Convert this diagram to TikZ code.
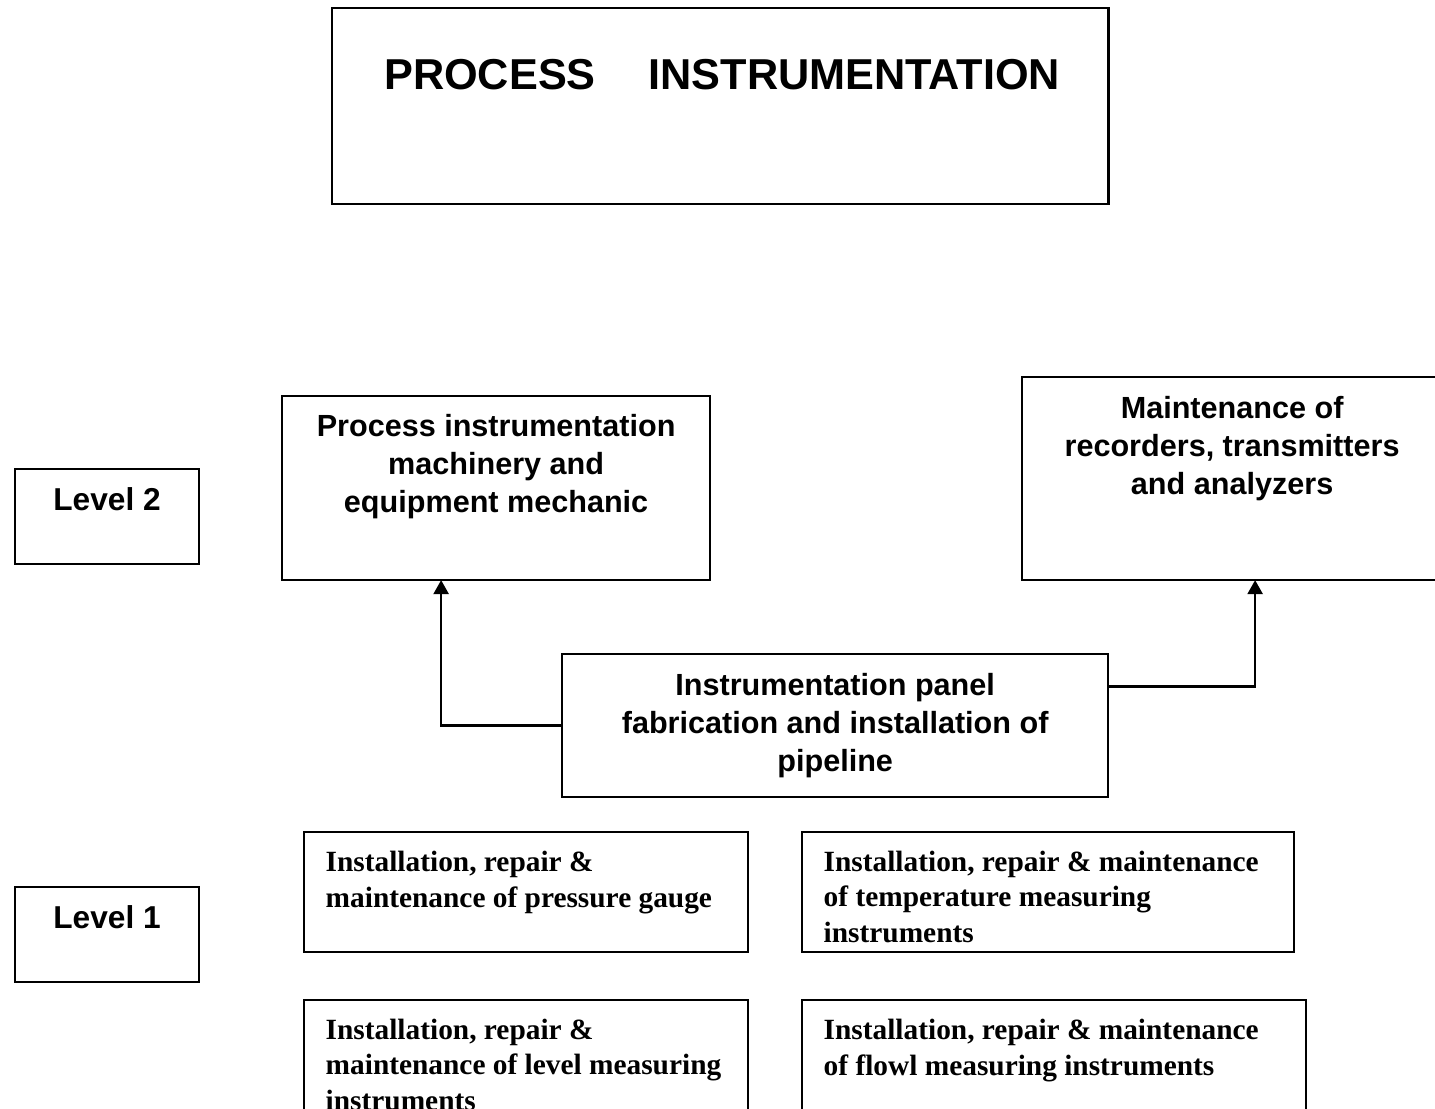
\documentclass[tikz,border=0pt]{standalone}
\usepackage{fontspec}
\setmainfont{Liberation Serif}
\setsansfont{Liberation Sans}
\usetikzlibrary{calc,arrows.meta}

\begin{document}
\begin{tikzpicture}[x=0.01cm, y=-0.01cm,
	box/.style={draw, line width=0.6pt, anchor=north west, inner sep=0pt, outer sep=0pt},
	headtxt/.style={font=\sffamily\bfseries\fontsize{12.3pt}{14pt}\selectfont, anchor=base, inner sep=0pt},
	leveltxt/.style={font=\sffamily\bfseries\fontsize{9pt}{11pt}\selectfont, anchor=base, inner sep=0pt},
	sanstxt/.style={font=\sffamily\bfseries\fontsize{8.7pt}{10.7pt}\selectfont, anchor=base, align=center, inner sep=0pt},
	seriftxt/.style={font=\rmfamily\bfseries\fontsize{8.35pt}{10pt}\selectfont, anchor=base west, align=left, inner sep=0pt},
	link/.style={line width=0.65pt, -{Triangle[width=4.3pt,length=4pt]}}]
			%%%%% START %%%%%
			\useasboundingbox (0,0) rectangle (1435,1109);
			\clip (0,0) rectangle (1435,1109);
			
			% (text nodes sit on the baseline of their last line)
			\node[box, minimum width=7.76cm, minimum height=1.96cm] (title) at (332,8) {};
			\node[headtxt] (titletxt) at ($(title.north)+(2,82)$) {PROCESS\hspace{15pt}INSTRUMENTATION};
			
			\node[box, minimum width=1.84cm, minimum height=0.95cm] (lvltwo) at (15,469) {};
			\node[leveltxt] (lvltwotxt) at ($(lvltwo.north)+(0,41)$) {Level 2};
			
			\node[box, minimum width=1.84cm, minimum height=0.95cm] (lvlone) at (15,887) {};
			\node[leveltxt] (lvlonetxt) at ($(lvlone.north)+(0,41)$) {Level 1};
			
			\node[box, minimum width=4.28cm, minimum height=1.84cm] (mech) at (282,396) {};
			\node[sanstxt] (mechtxt) at ($(mech.north)+(0,116)$) {Process instrumentation\\machinery and\\equipment mechanic};
			
			\node[box, minimum width=4.20cm, minimum height=2.03cm] (maint) at (1022,377) {};
			\node[sanstxt] (mainttxt) at ($(maint.north)+(0,117)$) {Maintenance of\\recorders, transmitters\\and analyzers};
			
			\node[box, minimum width=5.46cm, minimum height=1.43cm] (panel) at (562,654) {};
			\node[sanstxt] (paneltxt) at ($(panel.north)+(0,117)$) {Instrumentation panel\\fabrication and installation of\\pipeline};
			
			\draw[link] (panel.west) -| ($(mech.south)+(-55,0)$);
			\draw[link] ($(panel.east)+(0,-39)$) -| ($(maint.south)+(23,0)$);
			
			\node[box, minimum width=4.44cm, minimum height=1.20cm] (press) at (304,832) {};
			\node[seriftxt] (presstxt) at ($(press.north west)+(21,75)$) {Installation, repair \&\\maintenance of pressure gauge};
			
			\node[box, minimum width=4.92cm, minimum height=1.20cm] (temp) at (802,832) {};
			\node[seriftxt] (temptxt) at ($(temp.north west)+(21,110)$) {Installation, repair \& maintenance\\of temperature measuring\\instruments};
			
			\node[box, minimum width=4.44cm, minimum height=1.40cm] (level) at (304,1000) {};
			\node[seriftxt] (leveltxt) at ($(level.north west)+(21,110)$) {Installation, repair \&\\maintenance of level measuring\\instruments};
			
			\node[box, minimum width=5.04cm, minimum height=1.40cm] (flow) at (802,1000) {};
			\node[seriftxt] (flowtxt) at ($(flow.north west)+(21,75)$) {Installation, repair \& maintenance\\of flowl measuring instruments};
			%%%%% END %%%%%
\end{tikzpicture}
\end{document}
